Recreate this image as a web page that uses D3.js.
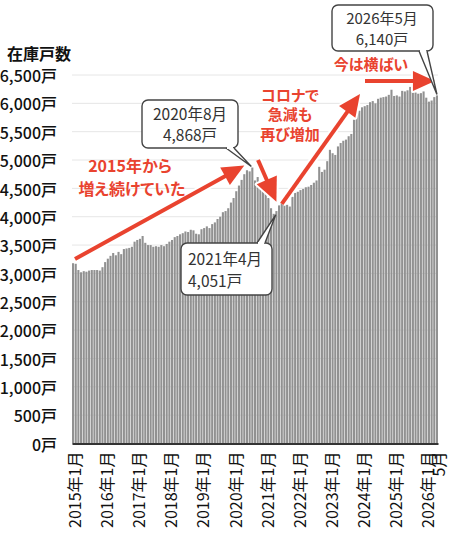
<!DOCTYPE html>
<html><head><meta charset="utf-8">
<script src="https://cdn.jsdelivr.net/npm/d3@7"></script>
<style>
body{margin:0;background:#fff}
svg{display:block;font-family:"Noto Sans CJK JP","Noto Sans",sans-serif}
.red{font-feature-settings:"palt";}
</style></head><body><svg id="c" width="450" height="537"></svg>
<script>
// 在庫戸数 monthly values (2015年1月 – 2026年5月)
const v2015 = [3180,3170,3060,3020,3040,3030,3050,3060,3060,3060,3050,3110];
const v2016 = [3200,3260,3310,3360,3320,3380,3340,3430,3440,3450,3470,3560];
const v2017 = [3590,3610,3660,3540,3500,3500,3470,3480,3470,3500,3480,3520];
const v2018 = [3560,3590,3640,3660,3690,3710,3740,3730,3770,3760,3700,3690];
const v2019 = [3780,3800,3830,3800,3870,3900,3960,4000,4080,4100,4150,4250];
const v2020 = [4330,4450,4550,4650,4750,4820,4800,4868,4640,4700,4560,4450];
const v2021 = [4420,4330,4150,4051,4100,4200,4240,4250,4210,4180,4350,4420];
const v2022 = [4440,4470,4490,4520,4530,4560,4600,4640,4880,4790,4830,4980];
const v2023 = [5180,5120,5090,5240,5300,5340,5360,5420,5460,5710,5830,5870];
const v2024 = [5930,5950,5970,6020,6040,6000,6080,6100,6110,6120,6150,6240];
const v2025 = [6130,6140,6120,6220,6210,6230,6290,6280,6190,6170,6180,6210];
const v2026 = [6100,6030,6050,6110,6140];
const years = [2015,2016,2017,2018,2019,2020,2021,2022,2023,2024,2025,2026];
const yearSeries = [v2015,v2016,v2017,v2018,v2019,v2020,v2021,v2022,v2023,v2024,v2025,v2026];
const values = yearSeries.flat();
const months = [];
years.forEach((y,i)=>{for(let m=1;m<=yearSeries[i].length;m++)months.push({y,m});});
const yTicks = [0,500,1000,1500,2000,2500,3000,3500,4000,4500,5000,5500,6000,6500];
const xTickLabels = ["2015年1月","2016年1月","2017年1月","2018年1月","2019年1月","2020年1月","2021年1月","2022年1月","2023年1月","2024年1月","2025年1月","2026年1月","5月"];

const svg = d3.select("#c");
const x = d3.scaleBand().domain(d3.range(values.length)).range([72,438]).paddingInner(0.22).paddingOuter(0);
const y = d3.scaleLinear().domain([0,6500]).range([443.5,75]);
const red = "#e9432f";

// gridlines
svg.append("g").selectAll("line").data(yTicks.filter(d=>d>0)).join("line")
  .attr("x1",72).attr("x2",438).attr("y1",d=>y(d)).attr("y2",d=>y(d))
  .attr("stroke","#e6e6e6").attr("stroke-width",1);

// y axis
const ya = svg.append("g").attr("transform","translate(72,1.5)")
  .call(d3.axisLeft(y).tickValues(yTicks).tickSize(0).tickPadding(15).tickFormat(d=>d3.format(",")(d)+"戸"));
ya.select(".domain").remove();
ya.selectAll("text").attr("font-size",16).attr("font-weight",500).attr("fill","#111")
  .attr("font-family","'Noto Sans CJK JP',sans-serif");

svg.append("text").attr("x",7).attr("y",60).attr("font-size",16).attr("font-weight",700)
  .attr("fill","#111").text("在庫戸数");

// bars
svg.append("g").selectAll("rect").data(values).join("rect")
  .attr("x",(d,i)=>x(i)).attr("width",x.bandwidth())
  .attr("y",d=>y(d)).attr("height",d=>y(0)-y(d)).attr("fill","#919191");

// x axis
const tickIdx = months.map((d,i)=>({d,i})).filter(o=>o.d.m===1).map(o=>o.i).concat([values.length-1]);
const xa = svg.append("g").attr("transform","translate(0,443.5)")
  .call(d3.axisBottom(x).tickValues(tickIdx).tickSize(0).tickSizeOuter(0)
    .tickFormat((d,k)=>xTickLabels[k]));
xa.select(".domain").attr("stroke","#333").attr("stroke-width",2);
xa.selectAll("text").attr("font-size",16).attr("fill","#111")
  .attr("font-family","'Noto Sans CJK JP',sans-serif")
  .attr("text-anchor","end").attr("dy",null).attr("y",0)
  .attr("transform","translate(1,8) rotate(-90)")
  .attr("dominant-baseline","central");

// arrows
function arrow(x1,y1,x2,y2,sw,hl,hw){
  const a=Math.atan2(y2-y1,x2-x1), c=Math.cos(a), s=Math.sin(a);
  const bx=x2-hl*c, by=y2-hl*s;
  const head=`M${x2},${y2}L${bx-hw/2*s},${by+hw/2*c}L${bx+hw/2*s},${by-hw/2*c}Z`;
  const g=svg.append("g");
  g.append("line").attr("x1",x1).attr("y1",y1).attr("x2",bx+2*c).attr("y2",by+2*s)
    .attr("stroke","#fff").attr("stroke-width",sw+4);
  g.append("path").attr("d",head).attr("fill","#fff").attr("stroke","#fff").attr("stroke-width",4).attr("stroke-linejoin","round");
  g.append("line").attr("x1",x1).attr("y1",y1).attr("x2",bx+2*c).attr("y2",by+2*s)
    .attr("stroke",red).attr("stroke-width",sw);
  g.append("path").attr("d",head).attr("fill",red);
}
const bc = i => x(i)+x.bandwidth()/2;
arrow(75,259,bc(64),y(4868)-2,4,22,20);
arrow(258,160,bc(76),y(4051)-12,4,24,22);
arrow(bc(78),y(4051)-10,360,94,4,22,20);
arrow(365,81,bc(136)-2,81,4,22,20);

// callouts
function callout(bx,by,w,h,tail,tip,lines,anchor,fs){
  const g=svg.append("g");
  g.append("rect").attr("x",bx).attr("y",by).attr("width",w).attr("height",h).attr("rx",6)
    .attr("fill","#fff").attr("stroke","#444").attr("stroke-width",1.4);
  const ey = tail.side==="bottom"? by+h : by;
  g.append("path").attr("d",`M${tail.a},${ey}L${tip[0]},${tip[1]}L${tail.b},${ey}`)
    .attr("fill","#fff").attr("stroke","#444").attr("stroke-width",1.4).attr("stroke-linejoin","miter");
  g.append("line").attr("x1",tail.a+1).attr("x2",tail.b-1).attr("y1",ey).attr("y2",ey)
    .attr("stroke","#fff").attr("stroke-width",2);
  lines.forEach(l=>{
    g.append("text").attr("x",l.x).attr("y",l.y).attr("text-anchor",anchor)
      .attr("font-size",fs).attr("fill","#333").text(l.t);
  });
}
callout(142,100,96,48,{side:"bottom",a:226,b:234},[bc(67)-1,y(4868)-1],
  [{x:190,y:120,t:"2020年8月"},{x:190,y:141,t:"4,868戸"}],"middle",15.5);
callout(181,243,91,52,{side:"top",a:257,b:265},[bc(75)+2,y(4051)+1],
  [{x:188,y:265,t:"2021年4月"},{x:188,y:287,t:"4,051戸"}],"start",15.5);
callout(332,5,101,46,{side:"bottom",a:419,b:427},[bc(136),y(6140)-1],
  [{x:382,y:24,t:"2026年5月"},{x:382,y:45,t:"6,140戸"}],"middle",15);

// red texts
const redTexts = [
  {x:130,y:172,t:"2015年から",fs:16},{x:132,y:195,t:"増え続けていた",fs:16},
  {x:290,y:101,t:"コロナで",fs:15},{x:290,y:120,t:"急減も",fs:15},{x:290,y:140,t:"再び増加",fs:15},
  {x:371,y:70,t:"今は横ばい",fs:15}
];
svg.append("g").selectAll("text").data(redTexts).join("text").attr("class","red")
  .attr("x",d=>d.x).attr("y",d=>d.y).attr("text-anchor","middle")
  .attr("font-size",d=>d.fs).attr("font-weight",700).attr("fill",red).text(d=>d.t);
</script></body></html>
